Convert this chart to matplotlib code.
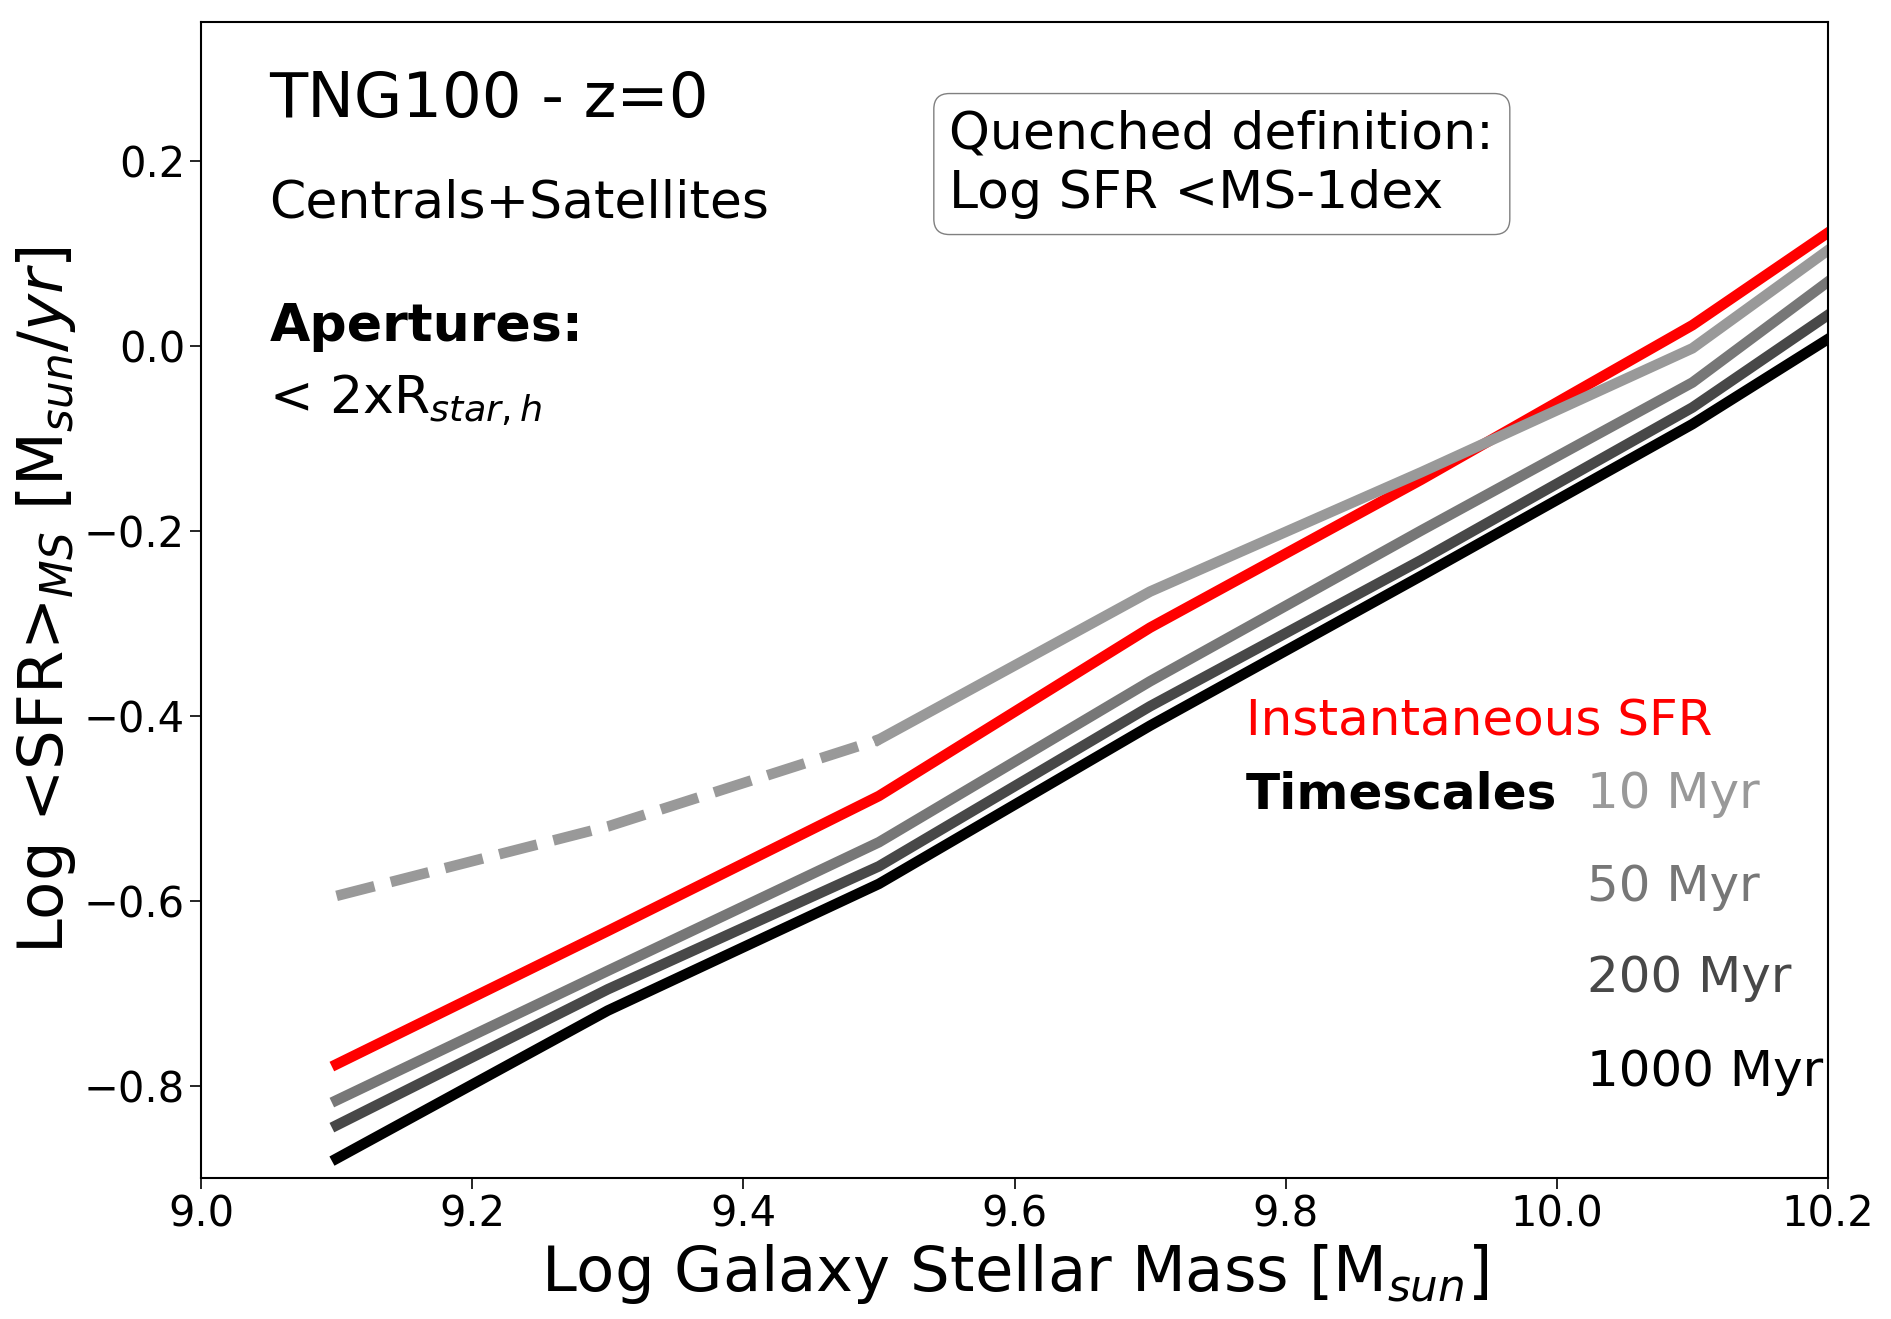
import numpy as np
import matplotlib
matplotlib.use('Agg')
import matplotlib.pyplot as plt

# log stellar mass bins
mass = [9.1, 9.3, 9.5, 9.7, 9.9, 10.1, 10.3]

# median log SFR of main sequence for each SFR estimate
sfr_inst = [-0.777, -0.633, -0.487, -0.305, -0.145, 0.022, 0.222]
sfr_10 = [-0.595, -0.520, -0.426, -0.266, -0.137, -0.003, 0.209]
sfr_50 = [-0.816, -0.676, -0.537, -0.363, -0.200, -0.040, 0.178]
sfr_200 = [-0.843, -0.696, -0.563, -0.390, -0.232, -0.067, 0.133]
sfr_1000 = [-0.879, -0.719, -0.582, -0.411, -0.249, -0.085, 0.099]

timescales = ['10 Myr', '50 Myr', '200 Myr', '1000 Myr']
grays = ['#999999', '#777777', '#484848', '#000000']

fig = plt.figure(figsize=(18.91, 13.19), dpi=100)
ax = fig.add_axes([0.1063, 0.1069, 0.8604, 0.8766])
lw = 7.6

ax.plot(mass, sfr_inst, color='red', linewidth=lw)
# 10 Myr is dashed where the sample is poorly resolved
ax.plot(mass[:3], sfr_10[:3], color=grays[0], linewidth=lw, linestyle='dashed')
ax.plot(mass[2:], sfr_10[2:], color=grays[0], linewidth=lw)
ax.plot(mass, sfr_50, color=grays[1], linewidth=lw)
ax.plot(mass, sfr_200, color=grays[2], linewidth=lw)
ax.plot(mass, sfr_1000, color=grays[3], linewidth=lw)

ax.set_xlim(9.0, 10.2)
ax.set_ylim(-0.9, 0.35)
ax.set_xticks([9.0, 9.2, 9.4, 9.6, 9.8, 10.0, 10.2])
ax.set_yticks([-0.8, -0.6, -0.4, -0.2, 0.0, 0.2])
ax.tick_params(labelsize=30, length=8, width=1.2)
for s in ax.spines.values():
    s.set_linewidth(1.5)

ax.set_xlabel(r'Log Galaxy Stellar Mass [M$_{sun}$]', fontsize=45)
ax.set_ylabel(r'Log <SFR>$_{MS}$ [M$_{sun}$/$yr$]', fontsize=45)

tr = ax.transAxes
ax.text(0.042, 0.918, 'TNG100 - z=0', fontsize=45, transform=tr)
ax.text(0.042, 0.831, 'Centrals+Satellites', fontsize=37.5, transform=tr)
ax.text(0.042, 0.724, 'Apertures:', fontsize=37.5, fontweight='bold', transform=tr)
ax.text(0.042, 0.661, r'< 2xR$_{star,h}$', fontsize=37.5, transform=tr)

ax.text(0.46, 0.839, 'Quenched definition:\nLog SFR <MS-1dex', fontsize=37.5,
        transform=tr, va='baseline', linespacing=1.25,
        bbox=dict(boxstyle='round,pad=0.3', facecolor='white', edgecolor='gray', linewidth=1))

ax.text(0.642, 0.383, 'Instantaneous SFR', fontsize=36, color='red', transform=tr)
ax.text(0.642, 0.320, 'Timescales', fontsize=36, fontweight='bold', transform=tr)
ys = [0.320, 0.240, 0.161, 0.080]
for lab, c, y in zip(timescales, grays, ys):
    ax.text(0.852, y, lab, fontsize=36, color=c, transform=tr)

plt.savefig('out.png', dpi=100)
